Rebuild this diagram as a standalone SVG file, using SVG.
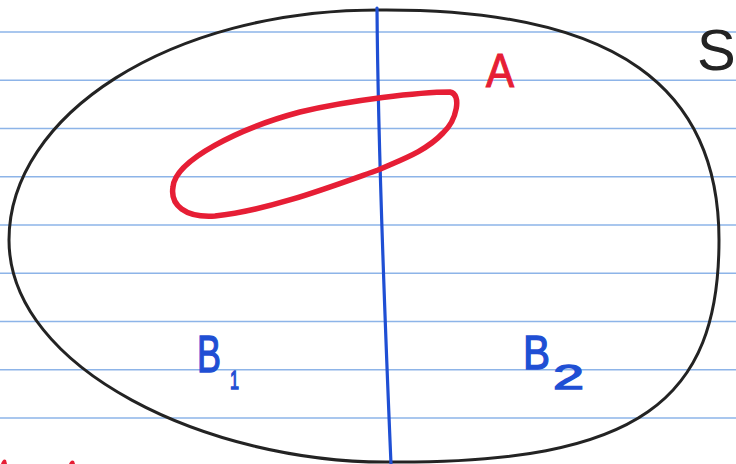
<svg xmlns="http://www.w3.org/2000/svg" width="736" height="464" viewBox="0 0 736 464">
  <style>
    .rule { stroke: #8db4e8; stroke-width: 1.6; fill: none; }
    .outline { stroke: #232323; stroke-width: 3; fill: none; stroke-linecap: round; }
    .divider { stroke: #1f4fd4; stroke-width: 3.2; fill: none; stroke-linecap: round; }
    .setA { stroke: #e61e35; stroke-width: 5.5; fill: none; stroke-linejoin: round; }
    .lbl { font-family: "Liberation Sans", "DejaVu Sans", sans-serif; }
    .red { fill: #e61e35; stroke: #e61e35; stroke-width: 1.2; }
    .blue { fill: #1f4fd4; stroke: #1f4fd4; stroke-width: 1.4; }
    .black { fill: #232323; }
  </style>
  <rect x="0" y="0" width="736" height="464" fill="#ffffff"/>
  <g id="paper-lines">
    <line class="rule" x1="0" y1="32" x2="736" y2="32"/>
    <line class="rule" x1="0" y1="80.3" x2="736" y2="80.3"/>
    <line class="rule" x1="0" y1="128.5" x2="736" y2="128.5"/>
    <line class="rule" x1="0" y1="176.8" x2="736" y2="176.8"/>
    <line class="rule" x1="0" y1="225" x2="736" y2="225"/>
    <line class="rule" x1="0" y1="273.3" x2="736" y2="273.3"/>
    <line class="rule" x1="0" y1="321.5" x2="736" y2="321.5"/>
    <line class="rule" x1="0" y1="369.8" x2="736" y2="369.8"/>
    <line class="rule" x1="0" y1="418" x2="736" y2="418"/>
  </g>
  <g id="sample-space-S">
    <path class="outline" d="M378,10 C620,8 719,90 719,240 C719,400 640,464 388,462 C210,463 9,370 9,240 C9,115 170,10 378,10 Z"/>
    <text class="lbl black" x="697" y="70" font-size="58">S</text>
  </g>
  <g id="partition-line">
    <path class="divider" d="M377,8 C378,150 384,300 391,464"/>
  </g>
  <g id="set-A">
    <path class="setA" d="M173,187 C175,160 240,128 300,112 C350,100 420,92 450,92 C462,94 457,120 443,133 C425,152 400,160 378,170 C330,187 270,210 215,216 C185,218 170,205 173,187 Z"/>
    <text class="lbl red" x="486" y="87" font-size="48" textLength="28" lengthAdjust="spacingAndGlyphs">A</text>
  </g>
  <g id="part-B1">
    <text class="lbl blue" x="197" y="372" font-size="51" textLength="24" lengthAdjust="spacingAndGlyphs">B</text>
    <text class="lbl blue" x="230" y="389" font-size="26" textLength="9" lengthAdjust="spacingAndGlyphs">1</text>
  </g>
  <g id="part-B2">
    <text class="lbl blue" x="523" y="369" font-size="49" textLength="27" lengthAdjust="spacingAndGlyphs">B</text>
    <text class="lbl blue" x="553" y="389" font-size="35" textLength="31" lengthAdjust="spacingAndGlyphs">2</text>
  </g>
  <g id="edge-marks">
    <path d="M1,464 Q3,458 6,460 L7,464 Z" fill="#e61e35"/>
    <path d="M69,464 Q71,459 74,461 L75,464 Z" fill="#e61e35"/>
  </g>
</svg>
